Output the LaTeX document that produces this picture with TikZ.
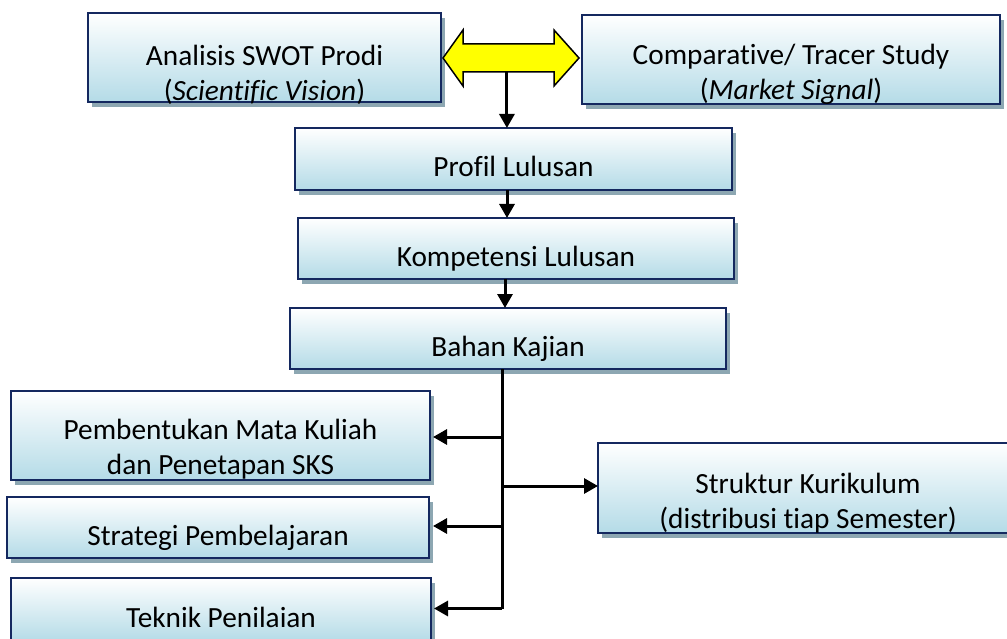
\documentclass[tikz,border=0pt]{standalone}
\usepackage{fontspec}
\setmainfont{Carlito}[Ligatures=NoCommon]
\usetikzlibrary{arrows.meta,calc,shadows}
\definecolor{boxline}{RGB}{20,40,95}
\definecolor{boxblue}{RGB}{180,219,231}
\definecolor{shadowc}{RGB}{141,167,178}
\definecolor{arrowyellow}{RGB}{255,255,0}
\tikzset{
  box/.style={draw=boxline, line width=2.2pt, top color=white, bottom color=boxblue,
    shading angle=0, inner sep=0pt, outer sep=0pt,
    drop shadow={shadow xshift=4pt, shadow yshift=-5pt, fill=shadowc, opacity=1}},
  txt/.style={font=\fontsize{29.3}{35}\selectfont, inner sep=0pt, align=center, anchor=base},
  arr/.style={line width=3pt, -{Triangle[length=14pt,width=15pt]}},
  trunk/.style={line width=3pt},
  dbl/.style={fill=arrowyellow, draw=black, line width=1.5pt, line join=miter}
}
\begin{document}
\begin{tikzpicture}[x=1pt,y=-1pt]
\useasboundingbox (0,0) rectangle (1007,639);
\begin{scope}
\clip (0,0) rectangle (1007,639);
% boxes
\node[box, minimum width=353, minimum height=89] (swot) at (264.5,57.5) {};
\node[box, minimum width=418, minimum height=89] (comp) at (791,59.5) {};
\node[box, minimum width=437, minimum height=62] (profil) at (513.5,159) {};
\node[box, minimum width=436, minimum height=61] (komp) at (516,248.5) {};
\node[box, minimum width=436, minimum height=61] (bahan) at (508,338.5) {};
\node[box, minimum width=419, minimum height=89] (pemb) at (220.5,435.5) {};
\node[box, minimum width=422, minimum height=61] (strat) at (218,527.5) {};
\node[box, minimum width=420, minimum height=64] (tekn) at (221,610) {};
\node[box, minimum width=420, minimum height=90] (strukt) at (808,488) {};
% texts
\node[txt] (swot-t) at (264.5,100.5) {Analisis SWOT Prodi\\(\textit{Scientific Vision})};
\node[txt] (comp-t) at (791,99.5) {Comparative/ Tracer Study\\(\textit{Market Signal})};
\node[txt] (profil-t) at (513.5,177) {Profil Lulusan};
\node[txt] (komp-t) at (516,266) {Kompetensi Lulusan};
\node[txt] (bahan-t) at (508,356) {Bahan Kajian};
\node[txt] (pemb-t) at (220.5,474.5) {Pembentukan Mata Kuliah\\dan Penetapan SKS};
\node[txt] (strat-t) at (218,545) {Strategi Pembelajaran};
\node[txt] (tekn-t) at (221,627) {Teknik Penilaian};
\node[txt] (strukt-t) at (808,528.5) {Struktur Kurikulum\\(distribusi tiap Semester)};
% yellow double arrow
\coordinate (dl) at ($(swot.east)+(2,0.5)$);
\coordinate (dr) at ($(comp.west)+(-3,-1.5)$);
\draw[dbl] (dl) -- ($(dl)+(20,-28)$) -- ($(dl)+(20,-14)$) -- ($(dr)+(-25,-14)$)
  -- ($(dr)+(-25,-28)$) -- (dr) -- ($(dr)+(-25,28)$) -- ($(dr)+(-25,14)$)
  -- ($(dl)+(20,14)$) -- ($(dl)+(20,28)$) -- cycle;
\coordinate (dmid) at ($(dl)!0.47!(dr)+(0,14.5)$);
\draw[arr] (dmid) -- (dmid |- profil.north);
% vertical chain
\draw[arr] ([xshift=-6.5pt]profil.south) -- ([xshift=-6.5pt]profil.south |- komp.north);
\draw[arr] ([xshift=-11pt]komp.south) -- ([xshift=-11pt]komp.south |- bahan.north);
% trunk
\coordinate (ttop) at ([xshift=-6pt]bahan.south);
\coordinate (tbot) at ($(ttop |- tekn.east)+(0,-1.5)$);
\draw[trunk] (ttop) -- (tbot);
\draw[arr, shorten >=3pt] ($(ttop |- pemb.east)+(0,1.5)$) -- ($(pemb.east)+(0,1.5)$);
\draw[arr, shorten >=4pt] ($(ttop |- strat.east)+(0,-1.5)$) -- ($(strat.east)+(0,-1.5)$);
\draw[arr, shorten >=3pt] (tbot) -- (tbot -| tekn.east);
\draw[arr] ($(ttop |- strukt.west)+(0,-2)$) -- ($(strukt.west)+(0,-2)$);
\end{scope}
\end{tikzpicture}
\end{document}
